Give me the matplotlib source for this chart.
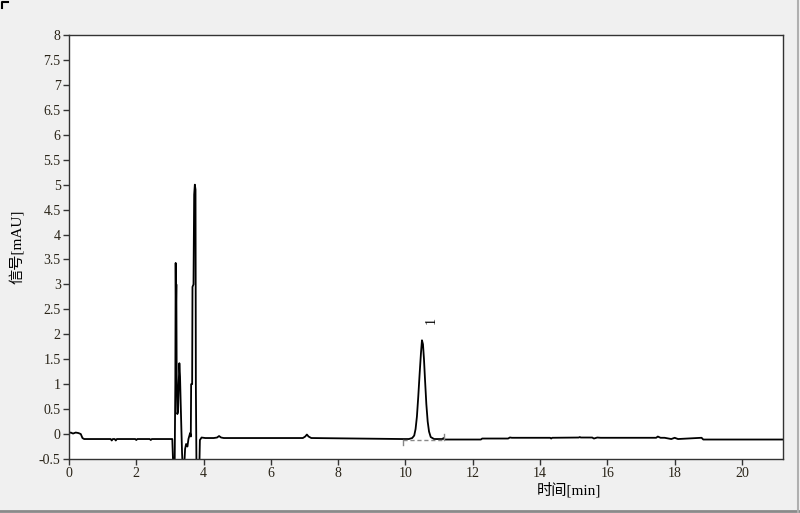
import matplotlib
matplotlib.use("Agg")
import matplotlib.pyplot as plt
from matplotlib.lines import Line2D

# chromatogram trace (time in min, signal in mAU)
time = [0.0, 0.05, 0.12, 0.2, 0.28, 0.35, 0.4, 0.45,
        1.24, 1.27, 1.3, 1.36, 1.39, 1.42, 1.97, 2.0, 2.03, 2.4, 2.43, 2.46,
        3.06, 3.07, 3.08, 3.1, 3.14, 3.15, 3.16, 3.17, 3.18, 3.19, 3.2, 3.22,
        3.24, 3.26, 3.28, 3.3, 3.32, 3.34, 3.36, 3.38, 3.42, 3.45, 3.48, 3.52,
        3.55, 3.6, 3.62, 3.63, 3.66, 3.67, 3.7, 3.72, 3.74, 3.76, 3.77, 3.79,
        3.87, 3.89, 3.91, 3.94, 4.05, 4.3, 4.4, 4.46, 4.52, 4.6,
        6.95, 7.02, 7.07, 7.12, 7.2,
        9.9, 10.1, 10.2, 10.26, 10.3, 10.34, 10.38, 10.42, 10.46, 10.49, 10.52,
        10.55, 10.58, 10.62, 10.66, 10.7, 10.75, 10.85,
        11.1, 11.13, 11.16, 12.24, 12.28, 13.05, 13.1, 13.12, 13.16,
        14.3, 14.33, 14.36, 15.15, 15.18, 15.21, 15.55, 15.6, 15.7, 15.8,
        17.45, 17.5, 17.58, 17.7, 17.9, 18.0, 18.1, 18.8, 18.85, 21.22]
signal = [0.02, 0.03, 0.01, 0.03, 0.02, 0.0, -0.08, -0.1,
          -0.1, -0.13, -0.1, -0.1, -0.13, -0.1, -0.1, -0.12, -0.1, -0.1, -0.12, -0.1,
          -0.1, -0.1, -0.3, -0.7, -0.7, 0.2, 1.0, 3.43, 2.5, 3.0, 1.2, 0.4,
          0.45, 1.0, 1.42, 1.15, 0.6, 0.1, -0.38, -0.7, -0.7, -0.3, -0.2, -0.25,
          -0.1, 0.02, -0.05, 1.0, 1.0, 2.95, 3.0, 4.8, 5.0, 4.9, 1.0, -0.8,
          -0.8, -0.12, -0.1, -0.07, -0.08, -0.08, -0.07, -0.04, -0.07, -0.08,
          -0.08, -0.05, -0.01, -0.05, -0.08,
          -0.1, -0.1, -0.08, -0.03, 0.1, 0.35, 0.75, 1.2, 1.62, 1.88, 1.8,
          1.5, 1.1, 0.6, 0.25, 0.05, -0.06, -0.1,
          -0.1, -0.08, -0.11, -0.11, -0.09, -0.09, -0.07, -0.07, -0.075,
          -0.075, -0.09, -0.075, -0.07, -0.06, -0.07, -0.07, -0.09, -0.07, -0.075,
          -0.075, -0.05, -0.075, -0.075, -0.1, -0.075, -0.1, -0.075, -0.11, -0.11]

# integration baseline under peak 1
base_t = [9.93, 11.15]
base_y = [-0.11, -0.11]
peak_t = [10.78]
peak_y = [2.28]
peak_labels = ["1"]

xticks = [0, 2, 4, 6, 8, 10, 12, 14, 16, 18, 20]
yticks = [-0.5, 0, 0.5, 1, 1.5, 2, 2.5, 3, 3.5, 4, 4.5, 5, 5.5, 6, 6.5, 7, 7.5, 8]
ytick_labels = ["-0.5", "0", "0.5", "1", "1.5", "2", "2.5", "3", "3.5", "4",
                "4.5", "5", "5.5", "6", "6.5", "7", "7.5", "8"]

fonts = ["Liberation Serif", "Noto Sans CJK SC"]

fig = plt.figure(figsize=(8, 5.13), dpi=100, facecolor="#f0f0f0")
ax = fig.add_axes([0.08625, 0.1053, 0.8925, 0.8265])
ax.set_facecolor("white")

ax.plot(time, signal, color="black", lw=1.3)
ax.plot(base_t, base_y, color="#888888", lw=1, ls=(0, (3, 2)))
ax.plot([base_t[0], base_t[0]], [base_y[0], base_y[0] - 0.1], color="#888888", lw=1)
ax.plot([base_t[1], base_t[1]], [base_y[1], base_y[1] + 0.12], color="#888888", lw=1)
for t, y, s in zip(peak_t, peak_y, peak_labels):
    ax.text(t, y, s, rotation=90, ha="center", va="center", fontsize=10,
            family=fonts)

ax.set_xlim(0, 21.22)
ax.set_ylim(-0.5, 8)
ax.set_xticks(xticks)
ax.set_yticks(yticks)
ax.set_yticklabels(ytick_labels)
ax.tick_params(direction="out", length=4, width=1, colors="#333333",
               labelsize=10, pad=2)
for lab in ax.get_xticklabels() + ax.get_yticklabels():
    lab.set_family(fonts)
    lab.set_color("#2a2418")
for sp in ax.spines.values():
    sp.set_color("#333333")
    sp.set_linewidth(1)

ax.set_xlabel("时间[min]", family=fonts, fontsize=11, color="black")
ax.xaxis.set_label_coords(0.70, -0.055)
ax.set_ylabel("信号[mAU]", family=fonts, fontsize=11, color="black")
ax.yaxis.set_label_coords(-0.062, 0.5)

# window frame
fig.add_artist(Line2D([0, 1], [0.004, 0.004], transform=fig.transFigure,
                      color="#8a8a8a", lw=2))
fig.add_artist(Line2D([0.9975, 0.9975], [0, 1], transform=fig.transFigure,
                      color="#b0b0b0", lw=1.5))
fig.add_artist(Line2D([0.003, 0.003, 0.01], [0.985, 0.996, 0.996],
                      transform=fig.transFigure, color="black", lw=1.5))

fig.savefig("out.png", dpi=100, facecolor=fig.get_facecolor())
